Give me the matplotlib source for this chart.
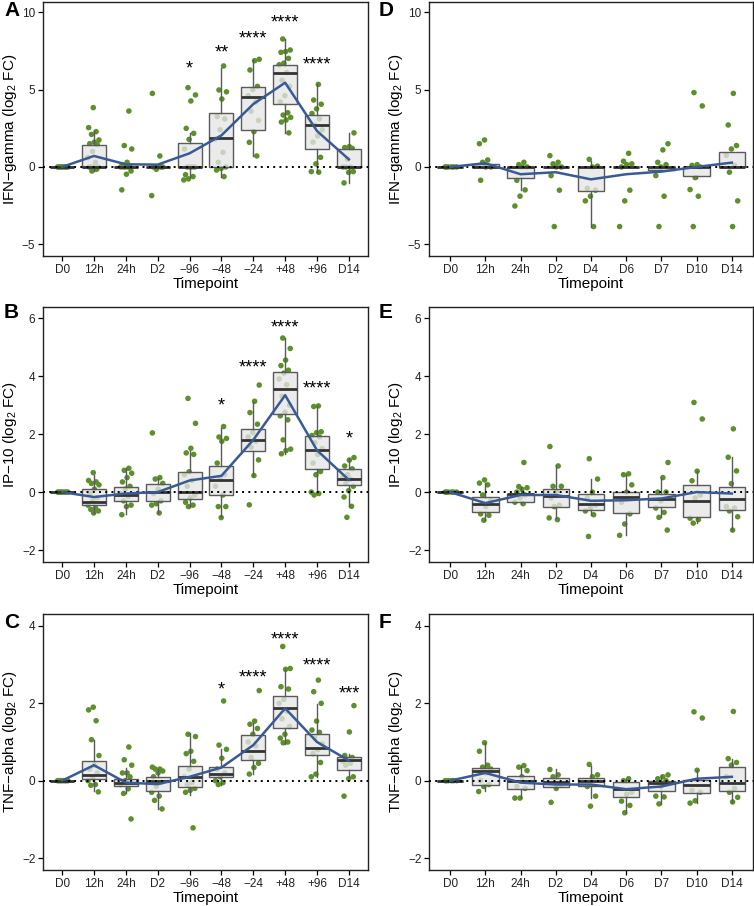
import numpy as np
import matplotlib
matplotlib.use("Agg")
import matplotlib.pyplot as plt

plt.rcParams['font.family'] = ['Liberation Sans', 'DejaVu Sans']
plt.rcParams['mathtext.fontset'] = 'custom'
plt.rcParams['mathtext.rm'] = 'Liberation Sans'
plt.rcParams['mathtext.default'] = 'regular'

# ---------------- categories ----------------
left_cats = ["D0", "12h", "24h", "D2", "\u221296", "\u221248", "\u221224", "+48", "+96", "D14"]
right_cats = ["D0", "12h", "24h", "D2", "D4", "D6", "D7", "D10", "D14"]

# ---------------- Panel A: IFN-gamma (challenge) ----------------
A_points = [
    [0, 0, 0, 0, 0, 0, 0, 0],
    [3.83, 2.54, 2.28, 2.1, 1.74, 1.6, 1.5, 1.45, 1.0, 0.6, 0.3, 0, 0, 0, 0, -0.15, -0.26],
    [3.61, 1.38, 1.16, 0.3, 0.15, 0, 0, 0, 0, 0, -0.26, -0.47, -1.48],
    [4.75, 0.71, 0, 0, 0, 0, 0, -0.15, -1.85],
    [5.12, 4.65, 4.26, 2.49, 2.17, 1.78, 1.16, 0, 0, 0, 0, -0.5, -0.62, -0.77, -0.84],
    [6.52, 4.97, 4.85, 4.39, 3.25, 3.1, 2.4, 1.8, 0.95, 0.3, 0, -0.1, -0.2, -0.62],
    [6.95, 6.86, 6.26, 5.2, 5.0, 4.6, 4.2, 3.6, 3.0, 2.28, 1.59, 0.71],
    [8.26, 7.55, 7.45, 7.4, 7.01, 6.7, 6.6, 6.1, 5.6, 5.2, 4.6, 4.2, 3.5, 3.35, 3.2, 3.03, 2.9, 2.2],
    [5.33, 4.32, 4.05, 3.75, 3.45, 3.1, 2.7, 2.4, 2.0, 1.6, 0.62, 0.2, -0.3, -0.34],
    [2.2, 1.31, 1.25, 1.2, 0.5, 0, 0, 0, -0.3, -0.35, -1.03],
]
# (whisker low, q1, median, q3, whisker high)
A_box = [
    (0, 0, 0, 0, 0), (-0.26, 0, 0, 1.42, 2.3), (0, 0, 0, 0, 0), (0, 0, 0, 0, 0),
    (-0.65, 0, 0, 1.57, 2.2), (-0.62, 0, 1.85, 3.46, 6.41), (0.71, 2.39, 4.49, 5.14, 6.9),
    (2.2, 4.04, 6.09, 6.56, 8.26), (-0.34, 1.16, 2.69, 3.33, 5.33), (-1.05, 0, 0, 1.14, 2.2),
]
A_line = [0, 0.71, 0.17, 0.15, 0.88, 2.04, 4.06, 5.44, 2.32, 0.49]
A_star_idx = [4, 5, 6, 7, 8]
A_star_txt = ["*", "**", "****", "****", "****"]
A_star_y = [6.69, 7.76, 8.62, 9.7, 7.0]

# ---------------- Panel B: IP-10 (challenge) ----------------
B_points = [
    [0, 0, 0, 0, 0, 0, 0, 0],
    [0.67, 0.4, 0.35, 0.3, 0.25, 0.1, -0.05, -0.2, -0.3, -0.45, -0.55, -0.6, -0.65, -0.72],
    [0.82, 0.75, 0.65, 0.5, 0.35, 0.2, 0.1, -0.05, -0.15, -0.3, -0.45, -0.5, -0.78],
    [2.04, 0.5, 0.45, 0.3, 0.1, -0.05, -0.3, -0.4, -0.45, -0.72],
    [3.23, 2.37, 1.51, 1.35, 1.3, 0.7, 0.6, 0.4, 0.2, -0.1, -0.2, -0.35, -0.45, -0.5],
    [2.26, 1.9, 1.85, 1.75, 1.0, 0.6, 0.45, 0.2, -0.1, -0.5, -0.5, -0.88],
    [3.69, 3.13, 2.74, 2.34, 2.05, 1.9, 1.75, 1.55, 1.11, 0.57, -0.44],
    [5.31, 4.95, 4.55, 4.36, 4.2, 4.1, 3.9, 3.7, 3.3, 3.0, 2.75, 2.63, 2.49, 1.8, 1.48, 1.43, 1.32],
    [2.97, 2.95, 2.08, 2.05, 1.95, 1.9, 1.7, 1.5, 1.3, 1.0, 0.71, 0.6, 0.0, -0.05, -0.1],
    [1.19, 1.1, 0.9, 0.8, 0.6, 0.5, 0.45, 0.3, 0.2, 0.05, -0.17, -0.49, -0.87],
]
B_box = [
    (0, 0, 0, 0, 0), (-0.72, -0.46, -0.34, 0.10, 0.6), (-0.76, -0.30, -0.11, 0.19, 0.82),
    (-0.72, -0.30, 0, 0.29, 0.5), (-0.5, -0.24, 0, 0.69, 1.4), (-0.87, -0.1, 0.4, 0.9, 2.2),
    (0.57, 1.43, 1.8, 2.16, 3.12), (1.32, 2.69, 3.55, 4.14, 5.31), (-0.03, 0.79, 1.44, 1.94, 2.97),
    (-0.49, 0.23, 0.45, 0.79, 1.19),
]
B_line = [0, -0.17, -0.05, 0.0, 0.4, 0.56, 1.8, 3.34, 1.44, 0.42]
B_star_idx = [5, 6, 7, 8, 9]
B_star_txt = ["*", "****", "****", "****", "*"]
B_star_y = [3.17, 4.47, 5.86, 3.77, 2.05]

# ---------------- Panel C: TNF-alpha (challenge) ----------------
C_points = [
    [0, 0, 0, 0, 0, 0, 0, 0],
    [1.9, 1.83, 1.55, 1.06, 0.65, 0.4, 0.3, 0.2, 0.1, 0.0, -0.1, -0.12, -0.29],
    [0.87, 0.54, 0.4, 0.2, 0.2, 0.1, 0.0, -0.1, -0.21, -0.33, -0.99],
    [0.35, 0.3, 0.3, 0.25, 0.2, 0.1, -0.05, -0.15, -0.3, -0.4, -0.51, -0.73],
    [1.2, 1.14, 0.76, 0.7, 0.5, 0.3, 0.1, -0.05, -0.1, -0.2, -0.25, -0.3, -1.22],
    [2.06, 0.92, 0.81, 0.58, 0.3, 0.2, 0.1, 0.0, -0.05, -0.1],
    [2.33, 1.54, 1.46, 1.35, 1.2, 1.0, 0.9, 0.6, 0.45, 0.34, 0.17],
    [3.47, 2.9, 2.88, 2.43, 2.37, 2.1, 2.0, 1.8, 1.6, 1.4, 1.2, 1.1, 1.0, 0.98],
    [2.6, 2.3, 2.0, 1.54, 1.31, 1.25, 1.1, 0.95, 0.8, 0.7, 0.47, 0.17, 0.1],
    [1.94, 1.26, 0.65, 0.6, 0.55, 0.5, 0.45, 0.4, 0.1, 0.05, -0.4],
]
C_box = [
    (0, 0, 0, 0, 0), (-0.28, 0.04, 0.15, 0.5, 1.06), (-0.33, -0.15, -0.06, 0.04, 0.33),
    (-0.73, -0.28, -0.02, 0.09, 0.3), (-0.36, -0.17, 0.09, 0.37, 1.23), (-0.11, 0.09, 0.16, 0.36, 0.81),
    (0.17, 0.53, 0.77, 1.19, 1.48), (0.96, 1.35, 1.87, 2.18, 2.86), (0.09, 0.66, 0.85, 1.2, 1.97),
    (0.09, 0.28, 0.53, 0.6, 0.7),
]
C_line = [0, 0.4, -0.05, -0.09, 0.1, 0.34, 0.92, 1.87, 1.0, 0.52]
C_star_idx = [5, 6, 7, 8, 9]
C_star_txt = ["*", "****", "****", "****", "***"]
C_star_y = [2.51, 2.81, 3.8, 3.13, 2.4]

# ---------------- Panel D: IFN-gamma (control) ----------------
D_points = [
    [0, 0, 0, 0, 0, 0],
    [1.74, 1.5, 0.45, 0.3, 0, 0, -0.86],
    [0.3, 0.15, 0, 0, -0.86, -1.48, -1.89, -2.52],
    [0.73, 0.3, 0.2, 0, 0, -0.56, -1.5, -3.85],
    [0.49, 0.05, 0, -1.38, -1.5, -1.89, -2.19, -3.85],
    [0.88, 0.37, 0.2, 0.15, 0, -1.5, -2.19, -3.85],
    [1.5, 1.1, 0.3, 0.15, 0, -0.56, -1.89, -3.85],
    [4.8, 3.94, 0.15, 0.1, 0, -0.69, -1.46, -1.89, -3.85],
    [4.75, 2.71, 1.38, 1.16, 0.75, 0.1, -0.34, -2.19, -3.85],
]
D_box = [
    (0, 0, 0, 0, 0), (0, 0, 0, 0.17, 0.17), (-1.48, -0.69, 0, 0, 0), (0, 0, 0, 0, 0),
    (-3.85, -1.55, 0, 0, 0.39), (0, 0, 0, 0, 0), (-0.19, -0.19, 0, 0, 0),
    (-0.69, -0.58, 0, 0, 0), (0, 0, 0, 0.99, 0.99),
]
D_line = [0, 0.24, -0.47, -0.34, -0.8, -0.47, -0.3, 0.0, 0.28]

# ---------------- Panel E: IP-10 (control) ----------------
E_points = [
    [0, 0, 0, 0, 0, 0],
    [0.42, 0.31, 0.25, -0.1, -0.3, -0.5, -0.75, -0.8, -0.97],
    [1.02, 0.19, 0.15, 0.1, 0.0, -0.1, -0.2, -0.35, -0.4],
    [1.57, 0.9, 0.2, 0.2, 0.0, -0.2, -0.45, -0.5, -0.89, -0.95],
    [1.15, 0.45, 0.0, -0.2, -0.45, -0.55, -0.65, -0.78, -1.53],
    [0.63, 0.6, 0.25, 0.0, -0.35, -0.75, -1.1, -1.49],
    [1.02, 0.5, 0.0, 0.0, -0.3, -0.55, -0.7, -0.87, -1.31],
    [3.09, 2.52, 0.72, 0.39, -0.1, -0.2, -0.9, -0.95, -1.07],
    [2.18, 1.2, 0.73, 0.29, -0.5, -0.55, -0.65, -0.85, -1.31],
]
E_box = [
    (0, 0, 0, 0, 0), (-0.97, -0.69, -0.41, -0.16, 0.31), (-0.4, -0.34, -0.07, -0.05, 0.19),
    (-0.9, -0.52, -0.15, 0.11, 0.9), (-0.78, -0.61, -0.41, -0.06, 0.45), (-1.49, -0.72, -0.18, 0.0, 0.6),
    (-0.87, -0.52, -0.23, -0.06, 0.5), (-1.07, -0.86, -0.32, 0.25, 0.71), (-1.31, -0.61, -0.24, 0.17, 1.2),
]
E_line = [0, -0.38, -0.1, -0.1, -0.3, -0.28, -0.22, 0.0, -0.05]

# ---------------- Panel F: TNF-alpha (control) ----------------
F_points = [
    [0, 0, 0, 0, 0, 0],
    [0.98, 0.76, 0.4, 0.35, 0.3, 0.2, 0.0, -0.1, -0.15, -0.28],
    [0.39, 0.35, 0.26, 0.1, -0.15, -0.2, -0.45, -0.45],
    [0.29, 0.15, 0.1, -0.1, -0.2, -0.56],
    [0.42, 0.15, 0.1, -0.15, -0.4, -0.66],
    [0.05, 0.0, -0.3, -0.35, -0.53, -0.64, -0.83],
    [0.15, 0.1, 0.05, 0.0, -0.15, -0.4, -0.42, -0.6],
    [1.78, 1.62, 0.27, -0.25, -0.3, -0.52, -0.58],
    [1.79, 0.57, 0.47, 0.4, 0.1, -0.2, -0.3, -0.43, -0.55],
]
F_box = [
    (0, 0, 0, 0, 0), (-0.28, -0.1, 0.24, 0.33, 0.97), (-0.45, -0.21, -0.02, 0.11, 0.39),
    (-0.2, -0.17, -0.03, 0.07, 0.29), (-0.45, -0.15, -0.02, 0.07, 0.37), (-0.83, -0.42, -0.22, -0.04, 0.05),
    (-0.6, -0.26, -0.06, 0.0, 0.15), (-0.58, -0.32, -0.12, 0.03, 0.27), (-0.55, -0.28, -0.06, 0.35, 0.57),
]
F_line = [0, 0.2, -0.05, -0.1, -0.1, -0.22, -0.15, 0.05, 0.1]

ylabels = ["IFN\u2212gamma (log$_2$ FC)", "IP\u221210 (log$_2$ FC)", "TNF\u2212alpha (log$_2$ FC)"]

# ---------------- styling ----------------
GREEN = "#5d8f2b"
BLUE = "#3a5a94"
BOX_FILL = (0.90, 0.90, 0.90, 0.78)
BOX_EDGE = "#5a5a5a"
MED = "#333333"

W, H = 754, 906
fig = plt.figure(figsize=(W / 100, H / 100), dpi=100)

def axpos(x0, x1, ytop, ybot):
    return [x0 / W, 1 - ybot / H, (x1 - x0) / W, (ybot - ytop) / H]

cols = [(43, 368), (429, 753)]
rows = [(2, 256), (307, 562), (614, 870)]
ylims = [(-5.75, 10.65), (-2.41, 6.38), (-2.31, 4.31)]
yticks = [[-5, 0, 5, 10], [-2, 0, 2, 4, 6], [-2, 0, 2, 4]]
letters = [["A", "B", "C"], ["D", "E", "F"]]

left = [(A_points, A_box, A_line, (A_star_idx, A_star_txt, A_star_y)),
        (B_points, B_box, B_line, (B_star_idx, B_star_txt, B_star_y)),
        (C_points, C_box, C_line, (C_star_idx, C_star_txt, C_star_y))]
right = [(D_points, D_box, D_line, None),
         (E_points, E_box, E_line, None),
         (F_points, F_box, F_line, None)]

STAR_FS = 13


def draw(ax, cats, pts, box, line, stars, r):
    n = len(cats)
    xs = np.arange(1, n + 1)
    for i, vals in enumerate(pts):
        k = np.arange(len(vals))
        offs = (((k * 0.618034 + 0.31 * i + 0.13) % 1.0) - 0.5) * 0.38
        ax.scatter(xs[i] + offs, vals, s=16, color=GREEN, edgecolors='none', zorder=2)
    stats = [dict(whislo=b[0], q1=b[1], med=b[2], q3=b[3], whishi=b[4], label=c)
             for b, c in zip(box, cats)]
    ax.bxp(stats, positions=xs, widths=0.75, patch_artist=True, showfliers=False,
           showcaps=False,
           boxprops=dict(facecolor=BOX_FILL, edgecolor=BOX_EDGE, linewidth=1.0),
           whiskerprops=dict(color=BOX_EDGE, linewidth=1.0),
           medianprops=dict(color=MED, linewidth=2.0, solid_capstyle='butt'),
           zorder=3)
    ax.axhline(0, color='black', linestyle=(0, (1, 2.2)), linewidth=1.4, zorder=4)
    ax.plot(xs, line, color=BLUE, linewidth=1.8, zorder=5)
    if stars is not None:
        for idx, t, y in zip(*stars):
            # place so that the asterisk glyph centre sits at y
            ax.annotate(t, (xs[idx], y), xytext=(0, -0.58 * STAR_FS),
                        textcoords='offset points', ha='center', va='baseline',
                        fontsize=STAR_FS, zorder=6)
    ax.set_xlim(0.4, n + 0.6)
    ax.set_ylim(*ylims[r])
    ax.set_yticks(yticks[r])
    ax.set_xticks(xs)
    ax.set_xticklabels(cats)
    ax.tick_params(axis='both', labelsize=8.5, length=3.5, width=0.9, colors='black',
                   labelcolor='#222222', pad=2)
    for s in ax.spines.values():
        s.set_linewidth(1.0)
        s.set_color('#222222')
    ax.set_xlabel("Timepoint", fontsize=11, labelpad=1)
    ax.set_ylabel(ylabels[r], fontsize=11, labelpad=2)


for c, (cats, panels) in enumerate([(left_cats, left), (right_cats, right)]):
    for r, (pts, box, line, stars) in enumerate(panels):
        ax = fig.add_axes(axpos(cols[c][0], cols[c][1], rows[r][0], rows[r][1]))
        draw(ax, cats, pts, box, line, stars, r)

letter_pos = [[(4, 11), (4, 313), (4, 623)], [(379, 11), (379, 313), (379, 623)]]
for c in range(2):
    for r in range(3):
        x, y = letter_pos[c][r]
        fig.text(x / W, 1 - y / H, letters[c][r], fontsize=15, fontweight='bold',
                 ha='left', va='center')

fig.savefig("out.png", dpi=100)
